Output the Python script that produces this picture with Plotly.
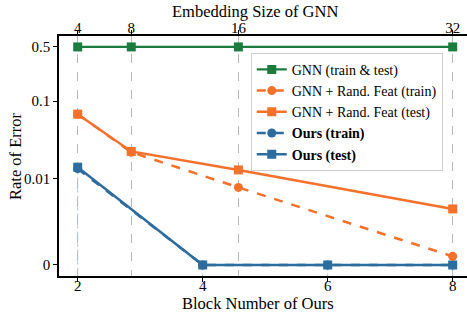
import numpy as np
import plotly.graph_objects as go

# ---- data ----
emb_sizes = [4, 8, 16, 32]          # top axis (GNN)
blocks = [2, 4, 6, 8]               # bottom axis (Ours)
gnn_err = [0.5, 0.5, 0.5, 0.5]
rf_train = [0.068, 0.022, 0.009, 0.001]
rf_test = [0.068, 0.0225, 0.013, 0.0065]
ours_train = [0.0135, 0.0, 0.0, 0.0]
ours_test = [0.0141, 0.0, 0.0, 0.0]
ytick_vals = [0, 0.01, 0.1, 0.5]
ytick_text = ["0", "0.01", "0.1", "0.5"]

LINTHRESH = 0.01
LINSCALE = 1.0 / (1 - 1 / 10.0)


def symlog(v):
    v = np.asarray(v, dtype=float)
    a = np.abs(v)
    out = np.where(a <= LINTHRESH, a / LINTHRESH * LINSCALE,
                   LINSCALE + np.log10(np.maximum(a, LINTHRESH) / LINTHRESH))
    return np.sign(v) * out


GREEN = "#1b7c3d"
ORANGE = "#f5702a"
BLUE = "#2c6c9e"
FONT = "Liberation Serif, Times New Roman, serif"

xb_range = [1.701, 8.229]
xt_range = [4 + (r - 2) * 28 / 6 for r in xb_range]

fig = go.Figure()

# drop lines under "Ours" points
dx, dy = [], []
for b, v in zip(blocks, ours_test):
    dx += [b, b, None]
    dy += [-1, float(symlog(v)), None]
fig.add_trace(go.Scatter(x=dx, y=dy, mode="lines", xaxis="x", yaxis="y",
                         line=dict(color="#a9c4dc", width=1, dash="dot"),
                         showlegend=False, hoverinfo="skip"))

fig.add_trace(go.Scatter(x=emb_sizes, y=symlog(gnn_err), name="GNN (train &amp; test)",
                         xaxis="x2", yaxis="y", mode="lines+markers",
                         line=dict(color=GREEN, width=2.2),
                         marker=dict(symbol="square", size=9, color=GREEN)))
fig.add_trace(go.Scatter(x=emb_sizes, y=symlog(rf_train), name="GNN + Rand. Feat (train)",
                         xaxis="x2", yaxis="y", mode="lines+markers",
                         line=dict(color=ORANGE, width=2.5, dash="dash"),
                         marker=dict(symbol="circle", size=9, color=ORANGE)))
fig.add_trace(go.Scatter(x=emb_sizes, y=symlog(rf_test), name="GNN + Rand. Feat (test)",
                         xaxis="x2", yaxis="y", mode="lines+markers",
                         line=dict(color=ORANGE, width=2.5),
                         marker=dict(symbol="square", size=9, color=ORANGE)))
fig.add_trace(go.Scatter(x=blocks, y=symlog(ours_train), name="<b>Ours (train)</b>",
                         xaxis="x", yaxis="y", mode="lines+markers",
                         line=dict(color=BLUE, width=2.5, dash="dash"),
                         marker=dict(symbol="circle", size=9, color=BLUE)))
fig.add_trace(go.Scatter(x=blocks, y=symlog(ours_test), name="<b>Ours (test)</b>",
                         xaxis="x", yaxis="y", mode="lines+markers",
                         line=dict(color=BLUE, width=2.5),
                         marker=dict(symbol="square", size=9, color=BLUE)))

axis_common = dict(automargin=False, zeroline=False, showline=True, linecolor="black",
                   linewidth=1.5, ticks="outside", ticklen=4, tickcolor="black")

fig.update_layout(
    width=467, height=312,
    margin=dict(l=59, r=0, t=36, b=36, autoexpand=False),
    paper_bgcolor="white", plot_bgcolor="white",
    font=dict(family=FONT, size=15, color="black"),
    showlegend=True,
    legend=dict(x=0.47, y=0.93, xanchor="left", yanchor="top",
                bgcolor="rgba(255,255,255,0.85)", bordercolor="#d0d0d0", borderwidth=1,
                font=dict(family=FONT, size=14), tracegroupgap=0,
                itemwidth=30),
    xaxis=dict(range=xb_range, tickvals=blocks, ticktext=[str(b) for b in blocks],
               showgrid=False, ticklabelstandoff=-9, **axis_common),
    xaxis2=dict(range=xt_range, overlaying="x", side="top", anchor="y",
                tickvals=emb_sizes, ticktext=[str(e) for e in emb_sizes],
                showgrid=True, gridcolor="#b8b8b8", gridwidth=1, griddash="dash",
                ticklabelstandoff=-9, **axis_common),
    yaxis=dict(range=[-0.142, 2.951], tickvals=symlog(ytick_vals), ticktext=ytick_text,
               showgrid=False, **axis_common),
    annotations=[
        dict(text="Block Number of Ours", xref="paper", yref="paper", x=0.4885, y=0,
             xanchor="center", yanchor="middle", yshift=-27, showarrow=False,
             font=dict(size=16.5)),
        dict(text="Embedding Size of GNN", xref="paper", yref="paper", x=0.481, y=1,
             xanchor="center", yanchor="middle", yshift=25, showarrow=False,
             font=dict(size=16.5)),
        dict(text="Rate of Error", xref="paper", yref="paper", x=0, y=0.5,
             xanchor="center", yanchor="middle", xshift=-44, textangle=-90,
             showarrow=False, font=dict(size=16.5)),
    ],
)

fig.write_html("out.html", config={"displayModeBar": False},
               post_script="document.body.style.margin='0';")
